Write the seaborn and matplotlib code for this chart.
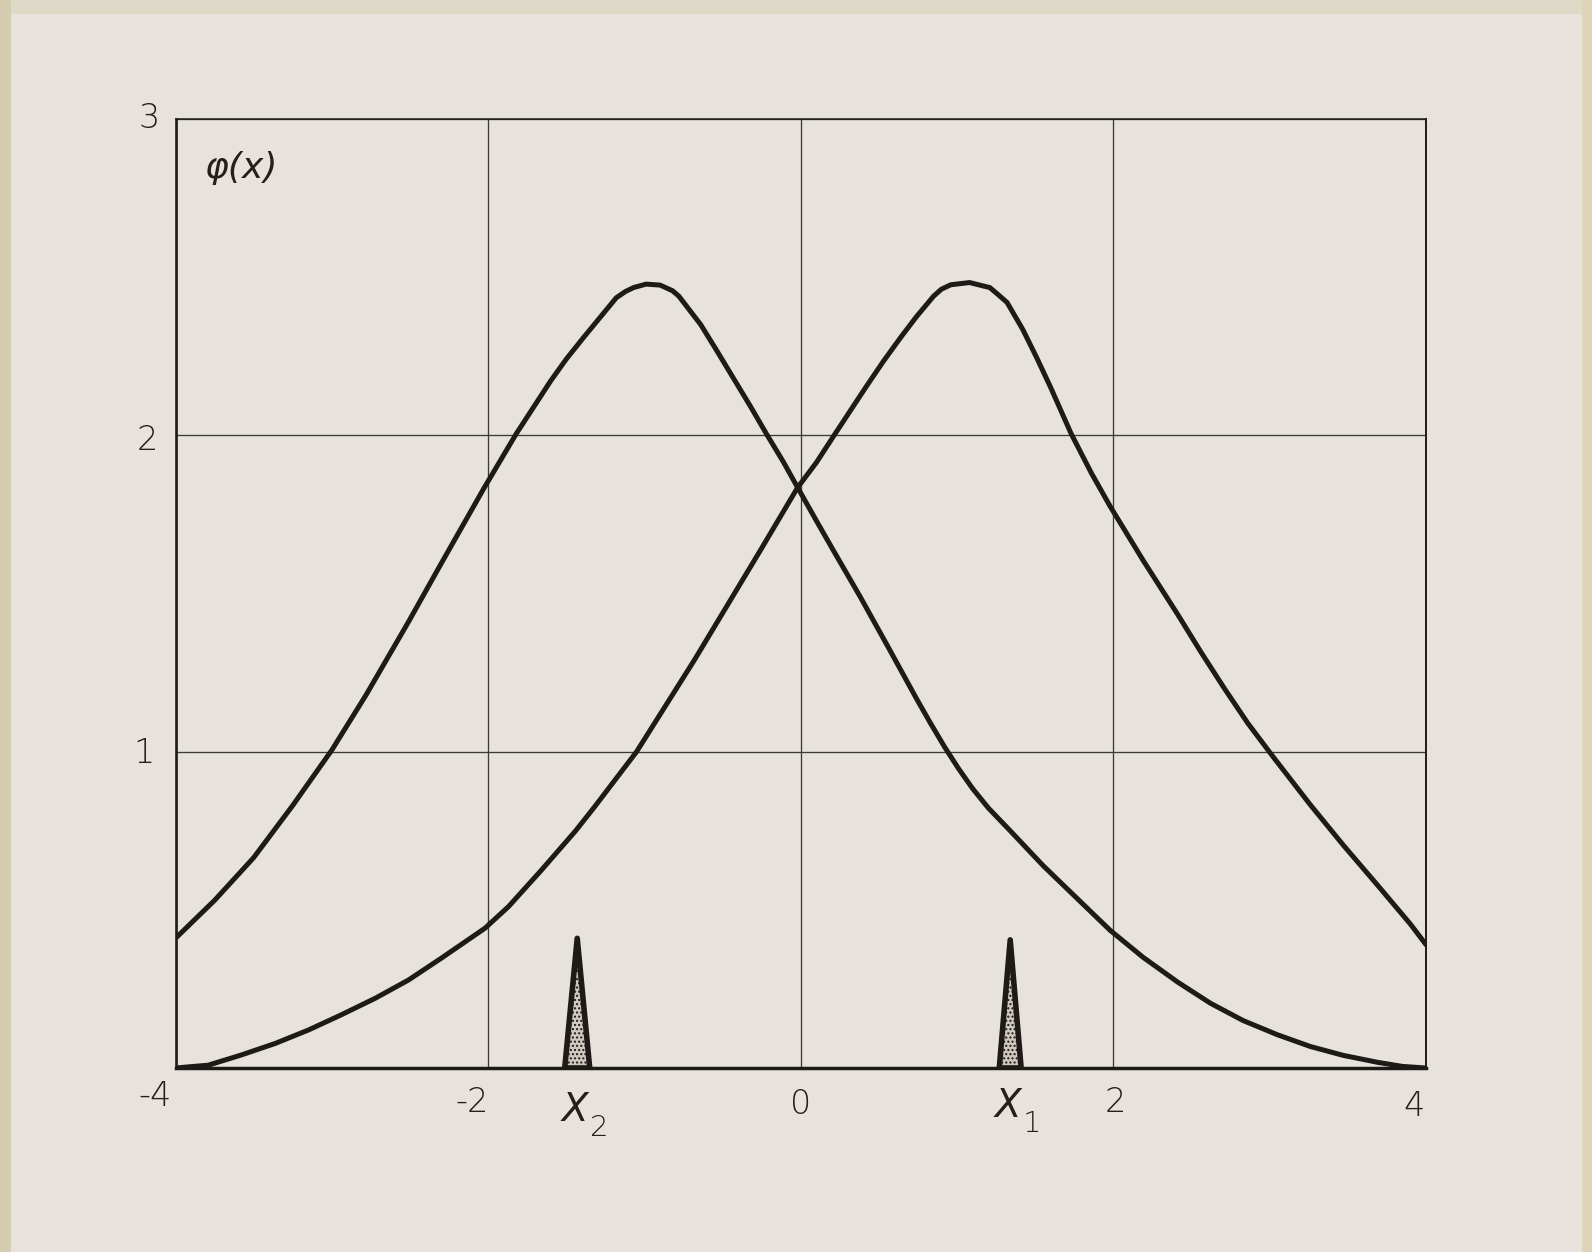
import matplotlib
matplotlib.use("Agg")
import matplotlib.pyplot as plt
from matplotlib.patches import Rectangle, Polygon
import pandas as pd
import seaborn as sns

# ---- data -------------------------------------------------------------
# curve peaked near x = -1
left_x = [-4.0, -3.75, -3.5, -3.25, -3.0, -2.78, -2.51, -2.30, -2.03, -1.82,
          -1.60, -1.50, -1.39, -1.28, -1.18, -1.12, -1.07, -0.99, -0.90, -0.82,
          -0.78, -0.64, -0.54, -0.43, -0.32, -0.22, -0.11, -0.02, 0.10, 0.21,
          0.38, 0.56, 0.74, 0.83, 0.92, 1.01, 1.10, 1.20, 1.34, 1.55,
          1.77, 1.98, 2.19, 2.41, 2.62, 2.83, 3.05, 3.26, 3.47, 3.69,
          3.85, 4.0]
left_y = [0.41, 0.53, 0.665, 0.83, 1.005, 1.18, 1.41, 1.595, 1.83, 2.005,
          2.172, 2.241, 2.309, 2.375, 2.435, 2.455, 2.467, 2.478, 2.475, 2.457,
          2.44, 2.35, 2.27, 2.18, 2.09, 2.005, 1.915, 1.835, 1.73, 1.635,
          1.49, 1.33, 1.168, 1.09, 1.015, 0.946, 0.883, 0.822, 0.75, 0.64,
          0.535, 0.435, 0.35, 0.272, 0.205, 0.15, 0.105, 0.068, 0.04, 0.018,
          0.005, 0.0]

# curve peaked near x = +1
right_x = [-4.0, -3.79, -3.58, -3.36, -3.15, -2.94, -2.72, -2.51, -2.30, -2.02,
           -1.87, -1.66, -1.44, -1.32, -1.05, -0.68, -0.26, -0.02, 0.10, 0.22,
           0.32, 0.42, 0.53, 0.64, 0.74, 0.85, 0.90, 0.96, 1.08, 1.21,
           1.26, 1.32, 1.42, 1.51, 1.60, 1.73, 1.86, 1.98, 2.19, 2.41,
           2.56, 2.71, 2.86, 3.02, 3.26, 3.47, 3.69, 3.90, 4.0]
right_y = [0.0, 0.009, 0.041, 0.078, 0.12, 0.168, 0.221, 0.278, 0.347, 0.442,
           0.51, 0.625, 0.75, 0.825, 1.0, 1.29, 1.635, 1.835, 1.914, 2.005,
           2.08, 2.155, 2.235, 2.31, 2.375, 2.44, 2.462, 2.476, 2.483, 2.467,
           2.446, 2.42, 2.335, 2.245, 2.15, 2.005, 1.88, 1.775, 1.605, 1.435,
           1.315, 1.20, 1.09, 0.985, 0.832, 0.705, 0.578, 0.455, 0.39]

# narrow spikes at X2 and X1
spike_x = [-1.43, 1.34]
spike_h = [0.41, 0.405]
spike_w = [0.08, 0.07]
spike_names = ["X", "X"]
spike_subs = ["2", "1"]

x_ticks = [-4, -2, 0, 2, 4]
x_tick_labels = ["-4", "-2", "0", "2", "4"]
y_ticks = [1, 2, 3]
y_tick_labels = ["1", "2", "3"]

# ---- styling ----------------------------------------------------------
sns.set_theme(style="white")
plt.rcParams["font.family"] = ["DejaVu Sans"]

PAPER = "#E7E3DC"
INK = "#1E1A17"
GRID = "#3C3936"
LETTER = "#241F1C"

W, H = 1592, 1252
fig = plt.figure(figsize=(W / 100, H / 100), dpi=100)
fig.patch.set_facecolor(PAPER)

# worn edges of the sheet
fig.add_artist(Rectangle((0, 1 - 14 / H), 1, 14 / H, transform=fig.transFigure,
                         color="#DFD9C8", lw=0, zorder=0))
fig.add_artist(Rectangle((0, 0), 11 / W, 1, transform=fig.transFigure,
                         color="#D6CCB0", lw=0, zorder=0))
fig.add_artist(Rectangle((1 - 10 / W, 0), 10 / W, 1, transform=fig.transFigure,
                         color="#DED5B9", lw=0, zorder=0))

ax = fig.add_axes([175.5 / W, 1 - 1068 / H, (1426 - 175.5) / W, (1068 - 119) / H])
ax.set_facecolor(PAPER)

df = pd.concat([
    pd.DataFrame({"x": left_x, "y": left_y, "curve": "left"}),
    pd.DataFrame({"x": right_x, "y": right_y, "curve": "right"}),
])
sns.lineplot(data=df, x="x", y="y", units="curve", estimator=None, sort=False,
             color=INK, lw=3.6, ax=ax, legend=False, zorder=4,
             solid_capstyle="round", solid_joinstyle="round")

# spikes: thick outline with a stippled interior
for sx, sh, sw in zip(spike_x, spike_h, spike_w):
    pts = [(sx - sw, 0), (sx, sh), (sx + sw, 0)]
    ax.add_patch(Polygon(pts, closed=True, facecolor="#CFC9BF", edgecolor=INK,
                         lw=4.0, hatch="....", joinstyle="round", zorder=5))

ax.set_xlim(-4, 4)
ax.set_ylim(0, 3)
ax.set_xticks(x_ticks)
ax.set_yticks([0] + y_ticks)
ax.tick_params(length=0, labelbottom=False, labelleft=False)
ax.grid(True, color=GRID, lw=0.95)
ax.set_xlabel("")
ax.set_ylabel("")

for side, lw in (("left", 1.9), ("bottom", 2.5), ("top", 1.1), ("right", 1.4)):
    ax.spines[side].set_visible(True)
    ax.spines[side].set_color(INK)
    ax.spines[side].set_linewidth(lw)
    ax.spines[side].set_zorder(6)

# hand-lettered labels
FS = 24
TXT = dict(fontsize=FS, color=LETTER, fontweight="light")
x_offsets = [(-20, -28), (-16, -34), (0, -36), (2, -34), (-12, -39)]
for t, lab, (dx, dy) in zip(x_ticks, x_tick_labels, x_offsets):
    ax.annotate(lab, xy=(t, 0), xycoords="data", xytext=(dx, dy),
                textcoords="offset pixels", ha="center", va="center",
                annotation_clip=False, **TXT)

y_offsets = [(-32, -2), (-28, -5), (-26, 0)]
for t, lab, (dx, dy) in zip(y_ticks, y_tick_labels, y_offsets):
    ax.annotate(lab, xy=(-4, t), xycoords="data", xytext=(dx, dy),
                textcoords="offset pixels", ha="center", va="center",
                annotation_clip=False, **TXT)

name_offsets = [(-2, -42), (-2, -38)]
for sx, name, sub, (dx, dy) in zip(spike_x, spike_names, spike_subs, name_offsets):
    ax.annotate(name, xy=(sx, 0), xycoords="data", xytext=(dx, dy),
                textcoords="offset pixels", ha="center", va="center",
                fontsize=FS + 4, color=LETTER, fontweight="light",
                fontstyle="oblique", annotation_clip=False)
    ax.annotate(sub, xy=(sx, 0), xycoords="data", xytext=(dx + 24, dy - 18),
                textcoords="offset pixels", ha="center", va="center",
                fontsize=FS - 3, color=LETTER, fontweight="light",
                annotation_clip=False)

ax.text(0.052, 0.948, "φ(x)", transform=ax.transAxes, ha="center",
        va="center", fontsize=FS + 2, color=LETTER, fontweight="light",
        fontstyle="oblique")

fig.savefig("out.png", dpi=100, facecolor=fig.get_facecolor())
